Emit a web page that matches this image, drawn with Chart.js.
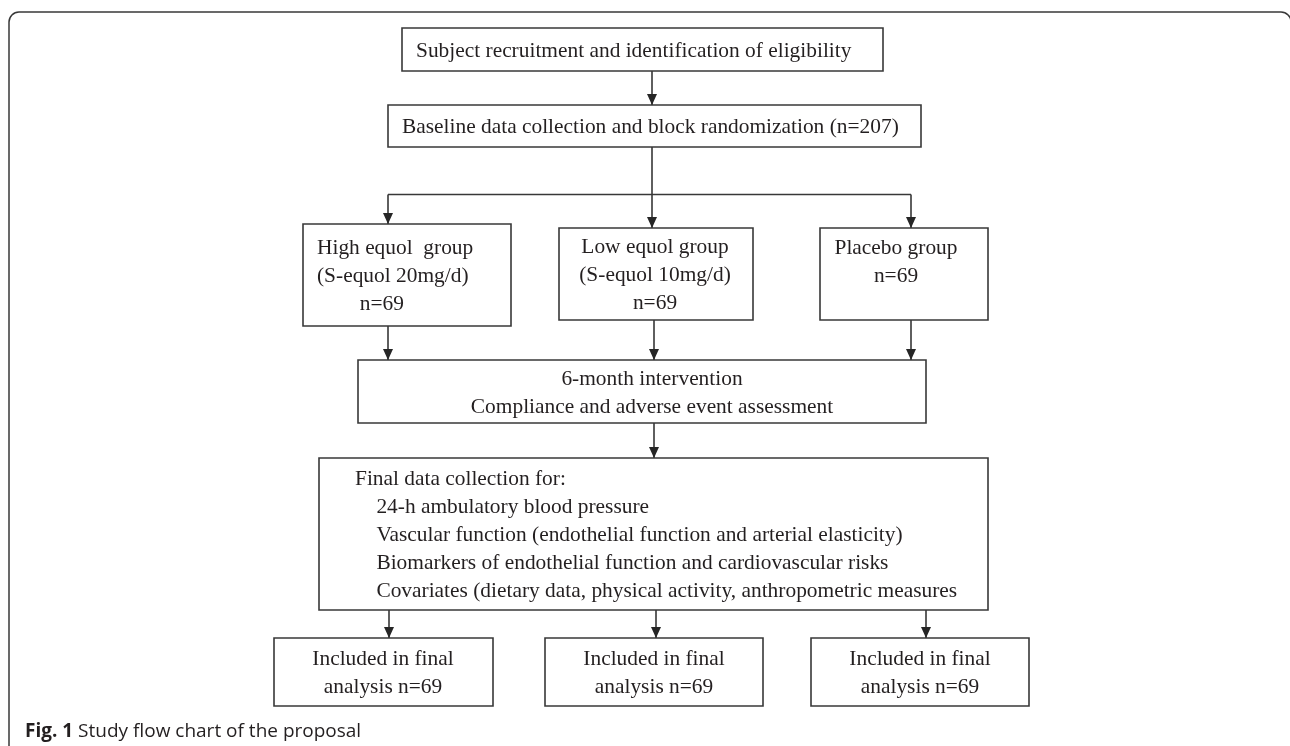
<!DOCTYPE html>
<html>
<head>
<meta charset="utf-8">
<title>Study flow chart</title>
<script src="https://cdn.jsdelivr.net/npm/chart.js@4.4.1/dist/chart.umd.min.js"></script>
<style>
  html, body { margin: 0; padding: 0; background: #fff; }
  #wrap { width: 1290px; height: 746px; }
</style>
</head>
<body>
<div id="wrap"><canvas id="flow" width="1290" height="746"></canvas></div>
<script>
// diagram is laid out in its own units (x 0..1290, y 0..746, y pointing down)
const nodeText = [
  ['Subject recruitment and identification of eligibility'],
  ['Baseline data collection and block randomization (n=207)'],
  ['High equol  group', '(S-equol 20mg/d)', '        n=69'],
  ['Low equol group', '(S-equol 10mg/d)', 'n=69'],
  ['Placebo group', 'n=69'],
  ['6-month intervention', 'Compliance and adverse event assessment'],
  ['Final data collection for:',
   '    24-h ambulatory blood pressure',
   '    Vascular function (endothelial function and arterial elasticity)',
   '    Biomarkers of endothelial function and cardiovascular risks',
   '    Covariates (dietary data, physical activity, anthropometric measures'],
  ['Included in final', 'analysis n=69'],
  ['Included in final', 'analysis n=69'],
  ['Included in final', 'analysis n=69']
];
const nodeLeft   = [402, 388, 303, 559, 820, 358, 319, 274, 545, 811];
const nodeRight  = [883, 921, 511, 753, 988, 926, 988, 493, 763, 1029];
const nodeTop    = [28, 105, 224, 228, 228, 360, 458, 638, 638, 638];
const nodeBottom = [71, 147, 326, 320, 320, 423, 610, 706, 706, 706];
const nodeAlign  = ['left', 'left', 'left', 'center', 'center', 'center', 'left', 'center', 'center', 'center'];
const nodeVAlign = ['middle', 'middle', 'middle', 'middle', 'top', 'middle', 'middle', 'middle', 'middle', 'middle'];
const nodeAnchor = [416, 402, 317, 655, 896, 652, 355, 383, 654, 920];

// connectors: [x0, y0, x1, y1], arrow at the second end when flagged
const links = [
  [652, 71, 652, 105],
  [652, 147, 652, 228],
  [388, 194.5, 911, 194.5],
  [388, 194.5, 388, 224],
  [911, 194.5, 911, 228],
  [388, 326, 388, 360],
  [654, 320, 654, 360],
  [911, 320, 911, 360],
  [654, 423, 654, 458],
  [389, 610, 389, 638],
  [656, 610, 656, 638],
  [926, 610, 926, 638]
];
const linkArrow = [true, true, false, true, true, true, true, true, true, true, true, true];

const frameBox = { left: 9, top: 12, right: 1291, bottom: 760 };
const captionBold = 'Fig. 1';
const captionText = ' Study flow chart of the proposal';
const captionAt = [25, 737];

const LINE = '#383838';
const INK = '#231f20';
const SERIF = '21.4px "Liberation Serif", "Times New Roman", serif';

const datasets = [];
nodeLeft.forEach((l, i) => {
  const r = nodeRight[i], t = nodeTop[i], b = nodeBottom[i];
  datasets.push({
    data: [{x: l, y: t}, {x: r, y: t}, {x: r, y: b}, {x: l, y: b}, {x: l, y: t}],
    showLine: true, borderColor: LINE, borderWidth: 1.6, pointRadius: 0,
    borderJoinStyle: 'miter', borderCapStyle: 'square', fill: false
  });
});
links.forEach(k => {
  datasets.push({
    data: [{x: k[0], y: k[1]}, {x: k[2], y: k[3]}],
    showLine: true, borderColor: LINE, borderWidth: 1.6, pointRadius: 0, fill: false
  });
});

const flowDrawing = {
  id: 'flowDrawing',
  beforeDatasetsDraw(chart) {
    const { ctx, scales: { x, y } } = chart;
    const L = x.getPixelForValue(frameBox.left), T = y.getPixelForValue(frameBox.top);
    const R = x.getPixelForValue(frameBox.right), B = y.getPixelForValue(frameBox.bottom);
    const rad = 10;
    ctx.save();
    ctx.strokeStyle = LINE;
    ctx.lineWidth = 1.5;
    ctx.beginPath();
    ctx.moveTo(L, B);
    ctx.lineTo(L, T + rad);
    ctx.arcTo(L, T, L + rad, T, rad);
    ctx.lineTo(R - rad, T);
    ctx.arcTo(R, T, R, T + rad, rad);
    ctx.lineTo(R, B);
    ctx.stroke();
    ctx.restore();
  },
  afterDatasetsDraw(chart) {
    const { ctx, scales: { x, y } } = chart;
    ctx.save();

    // arrow heads
    ctx.fillStyle = '#262626';
    links.forEach((k, i) => {
      if (!linkArrow[i]) return;
      const px = x.getPixelForValue(k[2]), py = y.getPixelForValue(k[3]);
      ctx.beginPath();
      ctx.moveTo(px, py);
      ctx.lineTo(px - 5, py - 11);
      ctx.lineTo(px + 5, py - 11);
      ctx.closePath();
      ctx.fill();
    });

    // box texts
    ctx.font = SERIF;
    ctx.fillStyle = INK;
    ctx.textBaseline = 'alphabetic';
    const lh = 28;
    nodeText.forEach((lines, i) => {
      const top = y.getPixelForValue(nodeTop[i]);
      const cy = (top + y.getPixelForValue(nodeBottom[i])) / 2;
      const ax = x.getPixelForValue(nodeAnchor[i]);
      lines.forEach((raw, j) => {
        const txt = raw.replace(/^ +/, '');
        const indent = ctx.measureText(raw.slice(0, raw.length - txt.length)).width;
        const by = nodeVAlign[i] === 'top'
          ? top + 26 + j * lh
          : cy + (j - (lines.length - 1) / 2) * lh + 7;
        ctx.textAlign = nodeAlign[i];
        ctx.fillText(txt, ax + indent, by);
      });
    });

    // caption
    const cx = x.getPixelForValue(captionAt[0]), cyc = y.getPixelForValue(captionAt[1]);
    ctx.textAlign = 'left';
    ctx.font = 'bold 19px "Open Sans", "Noto Sans", sans-serif';
    ctx.fillText(captionBold, cx, cyc);
    const w = ctx.measureText(captionBold).width;
    ctx.font = '19px "Open Sans", "Noto Sans", sans-serif';
    ctx.fillText(captionText, cx + w, cyc);
    ctx.restore();
  }
};

new Chart(document.getElementById('flow'), {
  type: 'scatter',
  data: { datasets },
  options: {
    responsive: false,
    animation: false,
    events: [],
    layout: { padding: 0 },
    plugins: { legend: { display: false }, tooltip: { enabled: false }, title: { display: false } },
    scales: {
      x: { type: 'linear', min: 0, max: 1290, display: false },
      y: { type: 'linear', min: 0, max: 746, reverse: true, display: false }
    },
    elements: { line: { tension: 0 } }
  },
  plugins: [flowDrawing]
});
</script>
</body>
</html>
